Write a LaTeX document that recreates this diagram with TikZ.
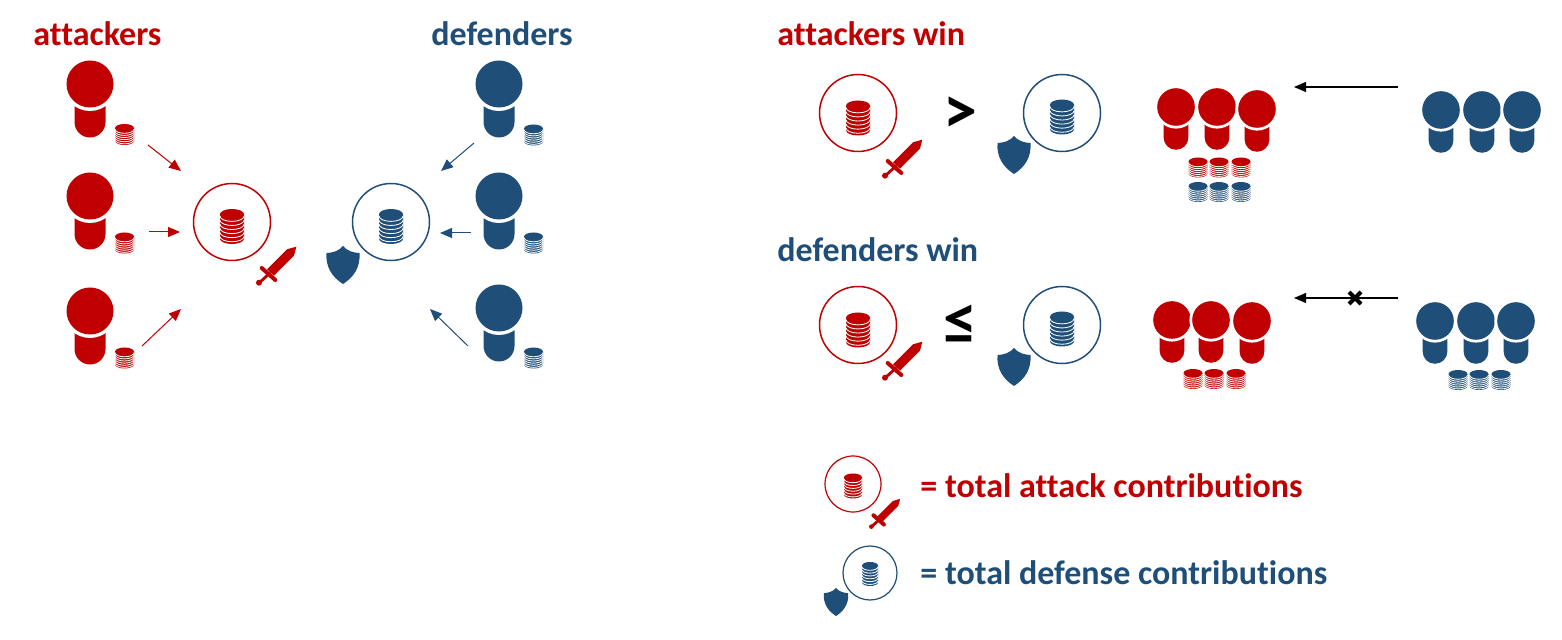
\documentclass[tikz,border=0pt]{standalone}
\usepackage{fontspec}
\setmainfont[Ligatures=NoCommon]{Carlito}
\usetikzlibrary{arrows.meta}
\definecolor{redc}{HTML}{C00000}
\definecolor{bluec}{HTML}{1F4E79}
\tikzset{
  x=0.5pt,y=-0.5pt,
  ring/.style={circle,draw=#1,line width=0.75pt,minimum size=38.5pt,inner sep=0pt,fill=none},
  title/.style={text=#1,font=\bfseries\fontsize{17}{20}\selectfont,anchor=base west,inner sep=0pt},
  legend/.style={text=#1,font=\bfseries\fontsize{17}{20}\selectfont,anchor=base west,inner sep=0pt},
  sign/.style={font=\bfseries\fontsize{#1}{30}\selectfont,inner sep=0pt},
  arr/.style={draw=#1,line width=0.5pt,-{Triangle[length=6pt,width=5pt,fill=#1]},shorten >=0pt},
  pics/person/.style={code={
    \fill[#1] (-15.5,15) -- (-15.5,38) arc[start angle=180,end angle=0,radius=15.5] -- (15.5,15) -- cycle;
    \fill[white] (0,0) circle[radius=27];
    \fill[#1] (0,0) circle[radius=23.5];
  }},
  pics/coin/.style n args={4}{code={
    \pgfmathsetmacro\cw{#1/2}
    \pgfmathsetmacro\cry{#1*0.22}
    \pgfmathsetmacro\ctop{-#2/2+\cry}
    \pgfmathsetmacro\cbot{#2/2-\cry}
    \fill[#3] (-\cw,\ctop) -- (-\cw,\cbot) arc[start angle=180,end angle=0,x radius=\cw,y radius=\cry]
      -- (\cw,\ctop) arc[start angle=0,end angle=-180,x radius=\cw,y radius=\cry] -- cycle;
    \pgfmathsetmacro\cstep{(\cbot-\ctop)/#4}
    \foreach \ci in {1,...,#4}{
      \pgfmathsetmacro\cy{\ctop+(\ci-0.55)*\cstep}
      \draw[white,line width=0.42pt] (-\cw,\cy) arc[start angle=180,end angle=0,x radius=\cw,y radius=\cry];
    }
  }},
  pics/sword/.style={code={
    \fill[redc] (18.3,-18.3) -- (9,-15.7) -- (-11,4.3) -- (-4,10.7) -- (16,-9.3) -- cycle;
    \draw[redc,line width=2pt,line cap=round] (-16.3,3) -- (-2.7,15);
    \draw[redc,line width=1.4pt] (-7.5,7.5) -- (-19,18);
    \fill[redc] (-19,17.7) circle[radius=3];
  }},
  pics/shield/.style={code={
    \fill[bluec] (0,-19) .. controls (4,-14) and (11,-12) .. (16.5,-12)
      .. controls (17.5,2) and (11,12) .. (0,19)
      .. controls (-11,12) and (-17.5,2) .. (-16.5,-12)
      .. controls (-11,-12) and (-4,-14) .. (0,-19) -- cycle;
  }},
}
\begin{document}
\begin{tikzpicture}
\useasboundingbox (0,0) rectangle (1562,640);
\fill[white] (0,0) rectangle (1562,640);
% titles
\node[title=redc] (tA) at (33,46) {attackers};
\node[title=bluec] (tD) at (431,46) {defenders};
\node[title=redc] (tAW) at (777,46) {attackers win};
\node[title=bluec] (tDW) at (777,262) {defenders win};
% left: attackers
\foreach \hy/\cy in {84/134.5,196/243,311/358}{
  \pic at (90,\hy) {person=redc};
  \pic at (124.5,\cy) {coin={19}{21}{redc}{6}};
}
\foreach \hy/\cy in {84/135,196/243,308/358}{
  \pic at (499,\hy) {person=bluec};
  \pic at (533.5,\cy) {coin={19}{21}{bluec}{6}};
}
% centre circles
\node[ring=redc] (cA) at (232,222) {};
\pic at (232,226.5) {coin={24}{35}{redc}{6}};
\pic at (278,265) {sword};
\node[ring=bluec] (cD) at (391,222) {};
\pic at (391,226.5) {coin={24}{35}{bluec}{6}};
\pic at (343,265) {shield};
% arrows
\coordinate (a1s) at (148,145); \coordinate (a1e) at (181,171);
\coordinate (a2s) at (149,232); \coordinate (a2e) at (180,232);
\coordinate (a3s) at (142,346); \coordinate (a3e) at (181,309);
\coordinate (d1s) at (474,143); \coordinate (d1e) at (441,171);
\coordinate (d2s) at (471,233); \coordinate (d2e) at (440,233);
\coordinate (d3s) at (468,346); \coordinate (d3e) at (430,309);
\draw[arr=redc] (a1s) -- (a1e);
\draw[arr=redc] (a2s) -- (a2e);
\draw[arr=redc] (a3s) -- (a3e);
\draw[arr=bluec] (d1s) -- (d1e);
\draw[arr=bluec] (d2s) -- (d2e);
\draw[arr=bluec] (d3s) -- (d3e);
% right, row 1
\node[ring=redc] (r1A) at (858,113) {};
\pic at (858,118) {coin={24}{35}{redc}{6}};
\pic at (904,158) {sword};
\node[sign=34] (gt) at (960,115) {>};
\node[ring=bluec] (r1D) at (1062,113) {};
\pic at (1062,117) {coin={24}{35}{bluec}{6}};
\pic at (1014,155) {shield};
\foreach \px/\py in {1176/107,1217/107,1257/109}{
  \pic[scale=0.8] at (\px,\py) {person=redc};
}
\foreach \px in {1441,1482,1522}{
  \pic[scale=0.8] at (\px,110) {person=bluec};
}
\foreach \cx in {1198,1219,1241}{
  \pic at (\cx,167.5) {coin={19}{20}{redc}{6}};
  \pic at (\cx,192) {coin={19}{20}{bluec}{6}};
}
\coordinate (k1s) at (1398,87); \coordinate (k1e) at (1294,87);
\draw[arr=black,line width=0.6pt] (k1s) -- (k1e);
% right, row 2
\node[ring=redc] (r2A) at (858,325) {};
\pic at (858,330) {coin={24}{35}{redc}{6}};
\pic at (904,360) {sword};
\node[sign=34] (le) at (960,325) {≤};
\node[ring=bluec] (r2D) at (1062,325) {};
\pic at (1062,329) {coin={24}{35}{bluec}{6}};
\pic at (1014,367) {shield};
\foreach \px/\py in {1172/320,1211/320,1252/321}{
  \pic[scale=0.8] at (\px,\py) {person=redc};
}
\foreach \px in {1435,1476,1516}{
  \pic[scale=0.8] at (\px,321) {person=bluec};
}
\foreach \cx in {1193,1214,1236}{
  \pic at (\cx,379) {coin={19}{20}{redc}{6}};
}
\foreach \cx in {1458,1479,1501}{
  \pic at (\cx,380) {coin={19}{20}{bluec}{6}};
}
\coordinate (k2s) at (1398,298); \coordinate (k2e) at (1294,298);
\draw[arr=black,line width=0.6pt] (k2s) -- (k2e);
\coordinate (x) at (1355,298);
\draw[line width=2pt] ([shift={(-6,-6)}]x) -- ([shift={(6,6)}]x);
\draw[line width=2pt] ([shift={(-6,6)}]x) -- ([shift={(6,-6)}]x);
% legend
\node[circle,draw=redc,line width=0.6pt,minimum size=28pt,inner sep=0pt] (lA) at (853,484) {};
\pic at (853,486) {coin={18}{25}{redc}{6}};
\pic[scale=0.77] at (886,513) {sword};
\node[legend=redc] (lAt) at (920,498) {= total attack contributions};
\node[circle,draw=bluec,line width=0.6pt,minimum size=27pt,inner sep=0pt] (lD) at (870,573) {};
\pic at (870,574) {coin={16}{24}{bluec}{6}};
\pic[scale=0.74] at (836,602) {shield};
\node[legend=bluec] (lDt) at (920,584) {= total defense contributions};
\end{tikzpicture}
\end{document}
